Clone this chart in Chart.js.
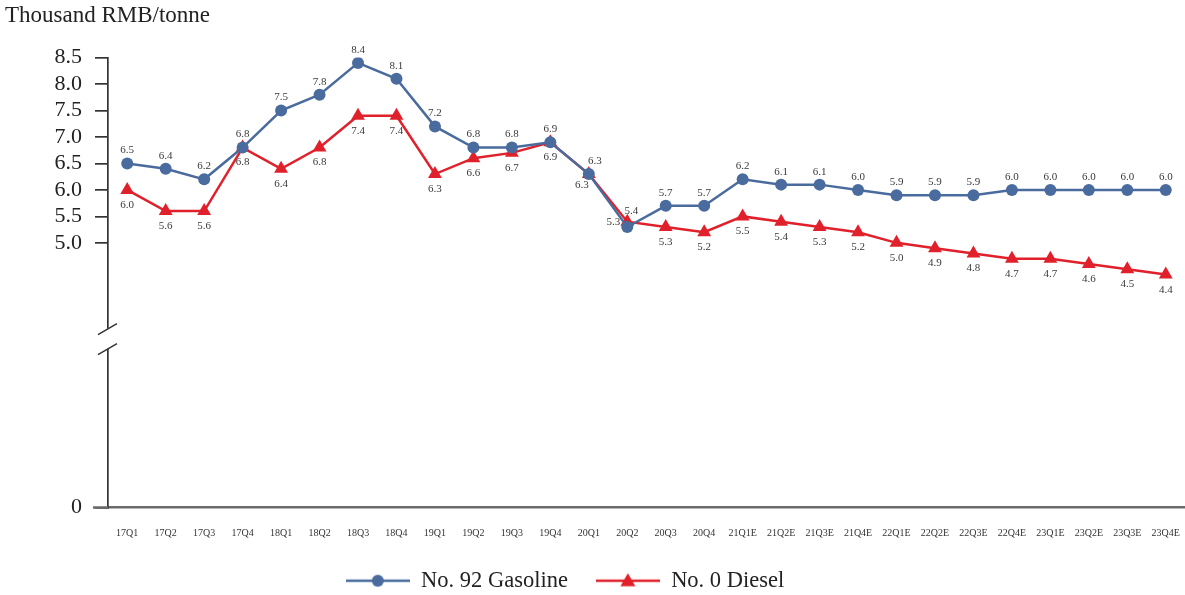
<!DOCTYPE html>
<html><head><meta charset="utf-8">
<script src="https://cdn.jsdelivr.net/npm/chart.js@4.4.1/dist/chart.umd.min.js"></script>
<style>html,body{margin:0;padding:0;background:#fff;overflow:hidden;} #wrap{width:1185px;height:595px;position:relative;} canvas{display:block;}</style>
</head><body><div id="wrap"><canvas id="c"></canvas></div>
<script>
const categories = ['17Q1','17Q2','17Q3','17Q4','18Q1','18Q2','18Q3','18Q4','19Q1','19Q2','19Q3','19Q4','20Q1','20Q2','20Q3','20Q4','21Q1E','21Q2E','21Q3E','21Q4E','22Q1E','22Q2E','22Q3E','22Q4E','23Q1E','23Q2E','23Q3E','23Q4E'];
const gasoline = [6.5,6.4,6.2,6.8,7.5,7.8,8.4,8.1,7.2,6.8,6.8,6.9,6.3,5.3,5.7,5.7,6.2,6.1,6.1,6.0,5.9,5.9,5.9,6.0,6.0,6.0,6.0,6.0];
const diesel = [6.0,5.6,5.6,6.8,6.4,6.8,7.4,7.4,6.3,6.6,6.7,6.9,6.3,5.4,5.3,5.2,5.5,5.4,5.3,5.2,5.0,4.9,4.8,4.7,4.7,4.6,4.5,4.4];
const yTickValues = [0,5.0,5.5,6.0,6.5,7.0,7.5,8.0,8.5];
const seriesNames = ['No. 92 Gasoline','No. 0 Diesel'];
const unitLabel = 'Thousand RMB/tonne';

const SERIF = "'Liberation Serif', 'DejaVu Serif', serif";
const BLUE = '#4a6b9d';
const RED = '#e0202a';

// label placement: default vertical offset per dataset, and special shifts by point index
const labelDy = [-13, 15];
const labelShift = {0:{12:[6,0],13:[-14,8]}, 1:{12:[-7,-4],13:[4,-26]}};

function legendIcon(color, style){
  const c = document.createElement('canvas');
  c.width = 64; c.height = 18;
  const x = c.getContext('2d');
  x.strokeStyle = color; x.lineWidth = 2.5;
  x.beginPath(); x.moveTo(0,9); x.lineTo(64,9); x.stroke();
  x.fillStyle = color;
  x.beginPath();
  if(style==='circle'){ x.arc(32,9,6,0,Math.PI*2); }
  else { x.moveTo(32,1.5); x.lineTo(39.5,14.5); x.lineTo(24.5,14.5); x.closePath(); }
  x.fill();
  return c;
}
const icons = [legendIcon(BLUE,'circle'), legendIcon(RED,'triangle')];

const dataLabels = {
  id:'dataLabels',
  afterDatasetsDraw(chart){
    const ctx = chart.ctx;
    ctx.save();
    ctx.font = "11px " + SERIF;
    ctx.fillStyle = '#3a3a3a';
    ctx.textAlign = 'center';
    ctx.textBaseline = 'middle';
    chart.data.datasets.forEach((ds,di)=>{
      const meta = chart.getDatasetMeta(di);
      meta.data.forEach((pt,i)=>{
        const sh = (labelShift[di] && labelShift[di][i]) || [0,0];
        ctx.fillText(ds.data[i].toFixed(1), pt.x + sh[0], pt.y + labelDy[di] + sh[1]);
      });
    });
    ctx.restore();
  }
};

const axisBreak = {
  id:'axisBreak',
  afterDraw(chart){
    const ctx = chart.ctx, y = chart.scales.y, a = chart.chartArea;
    const x0 = a.left;
    const yTop = y.getPixelForValue(3.38), yBot = y.getPixelForValue(3.0);
    ctx.save();
    ctx.fillStyle = '#fff';
    ctx.fillRect(x0-3, yTop, 6, yBot-yTop);
    ctx.strokeStyle = '#333'; ctx.lineWidth = 1.5;
    ctx.beginPath();
    ctx.moveTo(x0-10, yTop+6); ctx.lineTo(x0+9, yTop-5);
    ctx.moveTo(x0-10, yBot+6); ctx.lineTo(x0+9, yBot-5);
    ctx.stroke();
    ctx.strokeStyle = '#6b6b6b'; ctx.lineWidth = 2.5;
    ctx.beginPath(); ctx.moveTo(x0-15, a.bottom); ctx.lineTo(x0, a.bottom); ctx.stroke();
    ctx.restore();
  }
};

// legend sits a little left of centre in the reference
const legendShift = {
  id:'legendShift',
  afterLayout(chart){
    const lg = chart.legend;
    if(lg){ lg.right -= 60; lg.width -= 60; }
  }
};

new Chart(document.getElementById('c'), {
  type:'line',
  data:{
    labels: categories,
    datasets:[
      {label:seriesNames[0], data:gasoline, borderColor:BLUE, backgroundColor:BLUE, borderWidth:2.5,
       pointStyle:'circle', pointRadius:6, pointBorderWidth:0, tension:0},
      {label:seriesNames[1], data:diesel, borderColor:RED, backgroundColor:RED, borderWidth:2.5,
       pointStyle:'triangle', pointRadius:8, pointBorderWidth:0, tension:0}
    ]
  },
  options:{
    responsive:true, maintainAspectRatio:false, animation:false,
    layout:{autoPadding:false, padding:{left:5,right:0,top:0,bottom:-7}},
    scales:{
      x:{
        offset:true,
        afterFit(s){ s.paddingLeft = 0; s.paddingRight = 0; s.height = 34; },
        grid:{display:false},
        border:{display:true, color:'#6b6b6b', width:2.5},
        ticks:{font:{family:SERIF,size:10}, color:'#333', padding:12, maxRotation:0, autoSkip:false}
      },
      y:{
        min:0, max:8.5,
        afterFit(s){ s.width = 103; },
        afterBuildTicks(scale){ scale.ticks = yTickValues.map(v=>({value:v})); },
        grid:{display:true, drawOnChartArea:false, drawTicks:true, tickLength:13, color:'#333', lineWidth:1.7},
        border:{display:true, color:'#333', width:1.7},
        ticks:{font:{family:SERIF,size:22}, color:'#222', padding:13,
          callback(v){ return v===0 ? '0' : Number(v).toFixed(1); }}
      }
    },
    plugins:{
      title:{display:true, text:unitLabel, align:'start', color:'#222',
        font:{family:SERIF,size:23,weight:'normal'}, padding:{top:2,bottom:28}},
      legend:{position:'bottom',
        labels:{usePointStyle:true, pointStyleWidth:64, boxHeight:18, padding:28, color:'#222',
          font:{family:SERIF,size:22.5},
          generateLabels(chart){
            return chart.data.datasets.map((ds,i)=>({text:ds.label, pointStyle:icons[i], datasetIndex:i,
              fillStyle:ds.borderColor, strokeStyle:ds.borderColor, lineWidth:0, hidden:false, fontColor:'#222'}));
          }}},
      tooltip:{enabled:false}
    }
  },
  plugins:[dataLabels, axisBreak, legendShift]
});
</script></body></html>
